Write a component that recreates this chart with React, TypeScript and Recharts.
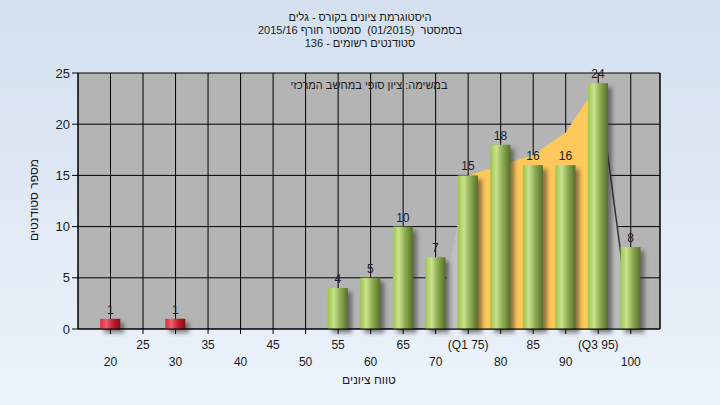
import React from 'react';
import {
    ComposedChart,
    Bar,
    Area,
    XAxis,
    YAxis,
    CartesianGrid,
    LabelList
} from 'recharts';

// grade buckets and student counts
const grades = [20, 25, 30, 35, 40, 45, 50, 55, 60, 65, 70, 75, 80, 85, 90, 95, 100];
const counts = [1, 0, 1, 0, 0, 0, 0, 4, 5, 10, 7, 15, 18, 16, 16, 24, 8];
const tickLabels = ['20', '25', '30', '35', '40', '45', '50', '55', '60', '65', '70', '(Q1 75)', '80', '85', '90', '(Q3 95)', '100'];
// quartile band (Q1..Q3) and the tails of the distribution curve
const iqrCurve = [null, null, null, null, null, null, null, null, null, null, null, 15, 16, 17, 19.2, 24, null];
const riseTail = [null, null, null, null, null, null, null, null, null, null, 0, 15, null, null, null, null, null];
const fallTail = [null, null, null, null, null, null, null, null, null, null, null, null, null, null, null, 24, 0];
const yTicks = [0, 5, 10, 15, 20, 25];

const titleLines = [
    'היסטוגרמת ציונים בקורס - גלים',
    'בסמסטר  (01/2015)  סמסטר חורף 2015/16',
    'סטודנטים רשומים - 136'
];
const noteText = 'במשימה: ציון סופי במחשב המרכזי';
const xTitle = 'טווח ציונים';
const yTitle = 'מספר סטודנטים';

const data = grades.map((g, i) => ({
    grade: g,
    count: counts[i],
    iqr: iqrCurve[i],
    rise: riseTail[i],
    fall: fallTail[i]
}));

if (typeof document !== 'undefined') document.body.style.margin = '0';

const FONT = '"Liberation Sans", Arial, sans-serif';

// eslint-disable-next-line @typescript-eslint/no-explicit-any
const ShadowBar = (props: any) => {
    const { x, y, width, height, payload } = props;
    if (!height || height <= 0) return null;
    const fill = payload.grade < 55 ? 'url(#redGrad)' : 'url(#greenGrad)';
    return (
        <g>
            <rect x={x + 4} y={y + 4} width={width} height={height} fill="#2a2a2a" opacity={0.55} filter="url(#barBlur)" />
            <rect x={x} y={y} width={width} height={height} fill={fill} />
        </g>
    );
};

// eslint-disable-next-line @typescript-eslint/no-explicit-any
const GradeTick = (props: any) => {
    const { x, y, payload } = props;
    const i = grades.indexOf(payload.value);
    const lower = payload.value % 10 === 0;
    return (
        <text x={x} y={y + (lower ? 30 : 13)} textAnchor="middle" fontSize={12} fill="#1a1a1a" fontFamily={FONT}>
            {tickLabels[i]}
        </text>
    );
};

export default function App() {
    return (
        <div
            style={{
                position: 'relative',
                width: 720,
                height: 405,
                background: 'linear-gradient(to bottom, #d4e0ef, #ecf3fb)',
                fontFamily: FONT,
                overflow: 'hidden'
            }}
        >
            <div style={{ position: 'absolute', top: 11, left: 0, width: 720, textAlign: 'center', fontSize: 11, lineHeight: '13px', color: '#1a1a1a', direction: 'rtl', whiteSpace: 'pre' }}>
                {titleLines.map((t) => (
                    <div key={t}>{t}</div>
                ))}
            </div>
            <ComposedChart
                width={720}
                height={405}
                data={data}
                margin={{ top: 73, right: 30, bottom: 26, left: 48 }}
            >
                <defs>
                    <linearGradient id="greenGrad" x1="0" y1="0" x2="1" y2="0">
                        <stop offset="0%" stopColor="#9cc64c" />
                        <stop offset="30%" stopColor="#c9e28e" />
                        <stop offset="60%" stopColor="#8fae52" />
                        <stop offset="100%" stopColor="#566e2c" />
                    </linearGradient>
                    <linearGradient id="redGrad" x1="0" y1="0" x2="1" y2="0">
                        <stop offset="0%" stopColor="#e02838" />
                        <stop offset="30%" stopColor="#f06070" />
                        <stop offset="65%" stopColor="#c01c28" />
                        <stop offset="100%" stopColor="#801018" />
                    </linearGradient>
                    <filter id="barBlur" x="-50%" y="-50%" width="200%" height="200%">
                        <feGaussianBlur stdDeviation="2" />
                    </filter>
                </defs>
                <CartesianGrid stroke="#000" strokeWidth={1} fill="#b4b4b4" fillOpacity={1} yAxisId="left" />
                <XAxis
                    type="number"
                    dataKey="grade"
                    domain={[15, 104.5]}
                    ticks={grades}
                    interval={0}
                    tick={<GradeTick />}
                    tickSize={5}
                    stroke="#000"
                    height={50}
                    allowDataOverflow
                />
                <YAxis
                    yAxisId="left"
                    domain={[0, 25]}
                    ticks={yTicks}
                    width={30}
                    tickSize={6}
                    stroke="#000"
                    tick={{ fill: '#1a1a1a', fontSize: 13, fontFamily: FONT }}
                />
                <YAxis
                    yAxisId="right"
                    orientation="right"
                    domain={[0, 25]}
                    ticks={yTicks}
                    width={30}
                    tickSize={6}
                    stroke="#000"
                    tick={{ fill: '#1a1a1a', fontSize: 13, fontFamily: FONT }}
                />
                <Area yAxisId="left" type="linear" dataKey="rise" stroke="none" fill="#bebebe" fillOpacity={1} isAnimationActive={false} dot={false} activeDot={false} />
                <Area yAxisId="left" type="linear" dataKey="fall" stroke="#333" strokeWidth={1.5} fill="#bababa" fillOpacity={1} isAnimationActive={false} dot={false} activeDot={false} />
                <Area yAxisId="left" type="linear" dataKey="iqr" stroke="none" fill="#ffc85a" fillOpacity={1} isAnimationActive={false} dot={false} activeDot={false} />
                <Bar yAxisId="left" dataKey="count" barSize={20} shape={<ShadowBar />} isAnimationActive={false}>
                    <LabelList
                        dataKey="count"
                        position="top"
                        offset={5}
                        fill="#1a1a2a"
                        fontSize={12}
                        fontFamily={FONT}
                        // eslint-disable-next-line @typescript-eslint/no-explicit-any
                        formatter={(v: any) => (v ? String(v) : '')}
                    />
                </Bar>
            </ComposedChart>
            <div style={{ position: 'absolute', top: 79, left: 78, width: 582, textAlign: 'center', fontSize: 11, color: '#1a1a1a', direction: 'rtl' }}>
                {noteText}
            </div>
            <div style={{ position: 'absolute', top: 373, left: 78, width: 582, textAlign: 'center', fontSize: 12, color: '#1a1a1a', direction: 'rtl' }}>
                {xTitle}
            </div>
            <div
                style={{
                    position: 'absolute',
                    left: 34,
                    top: 200,
                    transform: 'translate(-50%, -50%) rotate(-90deg)',
                    whiteSpace: 'nowrap',
                    fontSize: 12,
                    color: '#1a1a1a',
                    direction: 'rtl'
                }}
            >
                {yTitle}
            </div>
        </div>
    );
}
